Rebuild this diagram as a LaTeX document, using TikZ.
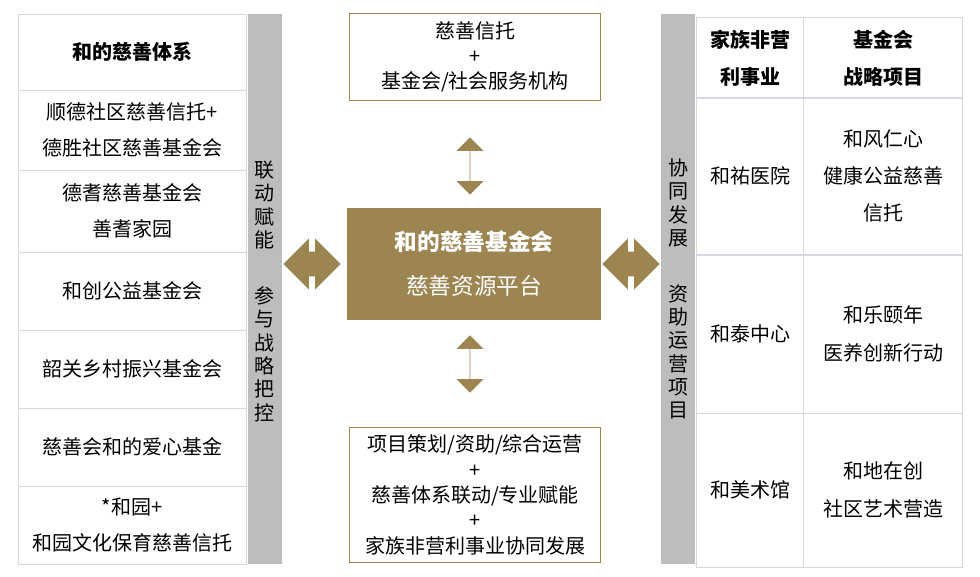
\documentclass[tikz,border=0pt]{standalone}
\usepackage{fontspec}
\setmainfont{Noto Sans CJK SC}
\usetikzlibrary{shapes,arrows,positioning}
\definecolor{gold}{HTML}{9C8550}
\definecolor{gridc}{HTML}{D3D8E2}
\definecolor{barc}{HTML}{BDBDBD}
\tikzstyle{cell} = [rectangle, draw=gridc, text centered, align=center, inner sep=0pt, font=\fontsize{15}{27}\selectfont]
\tikzstyle{bar} = [rectangle, fill=barc, minimum width=25.5pt, minimum height=412.5pt, inner sep=0pt]
\tikzstyle{box} = [rectangle, draw=gold, fill=white, align=center, minimum width=188pt, font=\fontsize{15}{18.5}\selectfont]
\tikzstyle{darr} = [double arrow, fill=gold, inner sep=0pt, inner ysep=9pt, minimum height=43pt, double arrow head extend=10pt]
\tikzstyle{vtext} = [align=center, font=\fontsize{15}{17.5}\selectfont]
\begin{document}
\begin{tikzpicture}[x=0.75pt,y=-0.75pt]
      \useasboundingbox (0,0) rectangle (980,576);
      % left table
      \node [cell, minimum width=171pt, minimum height=57pt, font=\bfseries\fontsize{15}{27}\selectfont] (lhead) at (132,52) {和的慈善体系};
      \node [cell, minimum width=171pt, minimum height=60pt] (l1) at (132,130) {顺德社区慈善信托+\\德胜社区慈善基金会};
      \node [cell, minimum width=171pt, minimum height=61.5pt] (l2) at (132,211) {德耆慈善基金会\\善耆家园};
      \node [cell, minimum width=171pt, minimum height=58.5pt] (l3) at (132,291) {和创公益基金会};
      \node [cell, minimum width=171pt, minimum height=58.5pt] (l4) at (132,369) {韶关乡村振兴基金会};
      \node [cell, minimum width=171pt, minimum height=58.5pt] (l5) at (132,447) {慈善会和的爱心基金};
      \node [cell, minimum width=171pt, minimum height=58.5pt] (l6) at (132,525) {*和园+\\和园文化保育慈善信托};
      \node [bar] (lbar) at (265,289) {};
      \node [vtext] (ltext1) at (264,205) {联\\动\\赋\\能};
      \node [vtext] (ltext2) at (264,354) {参\\与\\战\\略\\把\\控};

      % centre
      \node [box, minimum height=65pt] (top) at (475,57) {慈善信托\\+\\基金会/社会服务机构};
      \node [rectangle, fill=gold, text=white, align=center, minimum width=190pt, minimum height=84pt, font=\fontsize{17}{33}\selectfont] (core) at (474,264) {\bfseries 和的慈善基金会\\慈善资源平台};
      \node [box, minimum height=101pt, font=\fontsize{15}{19}\selectfont] (bottom) at (475,495) {项目策划/资助/综合运营\\+\\慈善体系联动/专业赋能\\+\\家族非营利事业协同发展};
      \node [darr, shape border rotate=90] (aup) at (470,166) {};
      \node [darr, shape border rotate=90] (adown) at (470,364) {};
      \node [darr] (aleft) at (312,264) {};
      \node [darr] (aright) at (631,264) {};

      % right table
      \node [bar] (rbar) at (678,289) {};
      \node [vtext] (rtext1) at (678,203) {协\\同\\发\\展};
      \node [vtext] (rtext2) at (678,352) {资\\助\\运\\营\\项\\目};
      \node [cell, minimum width=80pt, minimum height=61pt, font=\bfseries\fontsize{15}{28}\selectfont] (rh1) at (750,58) {家族非营\\利事业};
      \node [cell, minimum width=119pt, minimum height=61pt, font=\bfseries\fontsize{15}{28}\selectfont] (rh2) at (883,58) {基金会\\战略项目};
      \node [cell, minimum width=80pt, minimum height=117.5pt] (r1) at (750,176) {和祐医院};
      \node [cell, minimum width=119pt, minimum height=117.5pt, font=\fontsize{15}{28}\selectfont] (s1) at (883,176) {和风仁心\\健康公益慈善\\信托};
      \node [cell, minimum width=80pt, minimum height=118.5pt] (r2) at (750,334) {和泰中心};
      \node [cell, minimum width=119pt, minimum height=118.5pt, font=\fontsize{15}{28}\selectfont] (s2) at (883,334) {和乐颐年\\医养创新行动};
      \node [cell, minimum width=80pt, minimum height=115.5pt] (r3) at (750,490) {和美术馆};
      \node [cell, minimum width=119pt, minimum height=115.5pt, font=\fontsize{15}{28}\selectfont] (s3) at (883,490) {和地在创\\社区艺术营造};
\end{tikzpicture}
\end{document}
